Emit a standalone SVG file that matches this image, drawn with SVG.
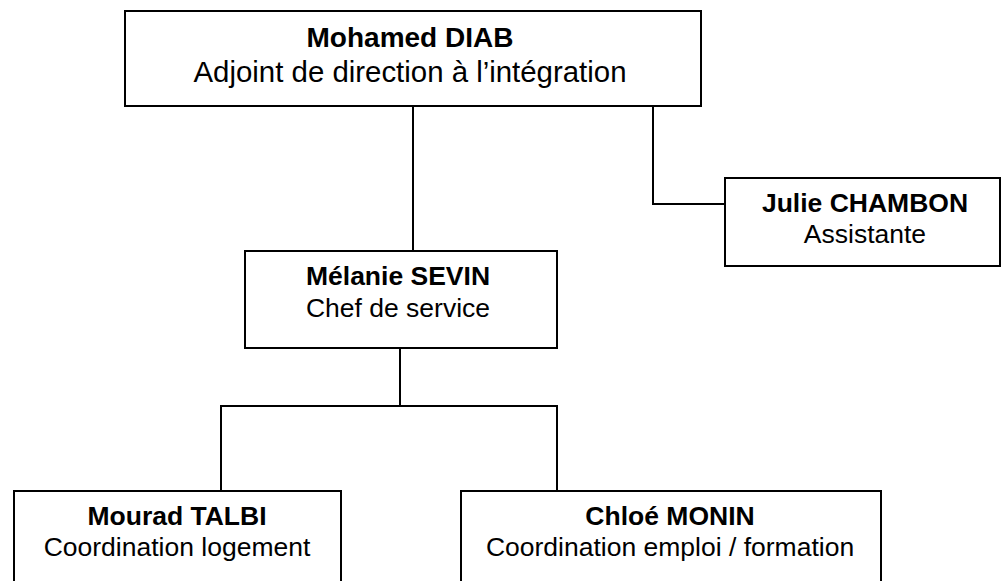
<svg xmlns="http://www.w3.org/2000/svg" width="1002" height="581" viewBox="0 0 1002 581">
<style>
.box{fill:#fff;stroke:#000;stroke-width:2}
.ln{fill:none;stroke:#000;stroke-width:2}
text{font-family:"Liberation Sans",Arial,sans-serif;fill:#000;text-anchor:middle}
.t{font-weight:bold;font-size:26.5px}
.s{font-size:26.5px}
.tb{font-weight:bold;font-size:28px}
.sb{font-size:29.4px}
</style>
<rect width="1002" height="581" fill="#fff"/>
<g id="connectors">
<path class="ln" d="M413 106V251"/>
<path class="ln" d="M653 106V204H725"/>
<path class="ln" d="M400 348V406"/>
<path class="ln" d="M221 491V406H557V491"/>
</g>
<g id="diab">
<rect class="box" x="125" y="11" width="576" height="95"/>
<text class="tb" x="410" y="47">Mohamed DIAB</text>
<text class="sb" x="410" y="82">Adjoint de direction à l’intégration</text>
</g>
<g id="chambon">
<rect class="box" x="725" y="178" width="275" height="88"/>
<text class="t" x="865" y="212">Julie CHAMBON</text>
<text class="s" x="865" y="243">Assistante</text>
</g>
<g id="sevin">
<rect class="box" x="245" y="251" width="312" height="97"/>
<text class="t" x="398" y="285">Mélanie SEVIN</text>
<text class="s" x="398" y="317">Chef de service</text>
</g>
<g id="talbi">
<rect class="box" x="14" y="491" width="327" height="100"/>
<text class="t" x="177" y="525">Mourad TALBI</text>
<text class="s" x="177" y="556">Coordination logement</text>
</g>
<g id="monin">
<rect class="box" x="461" y="491" width="420" height="100"/>
<text class="t" x="670" y="525">Chloé MONIN</text>
<text class="s" x="670" y="556">Coordination emploi / formation</text>
</g>
</svg>
